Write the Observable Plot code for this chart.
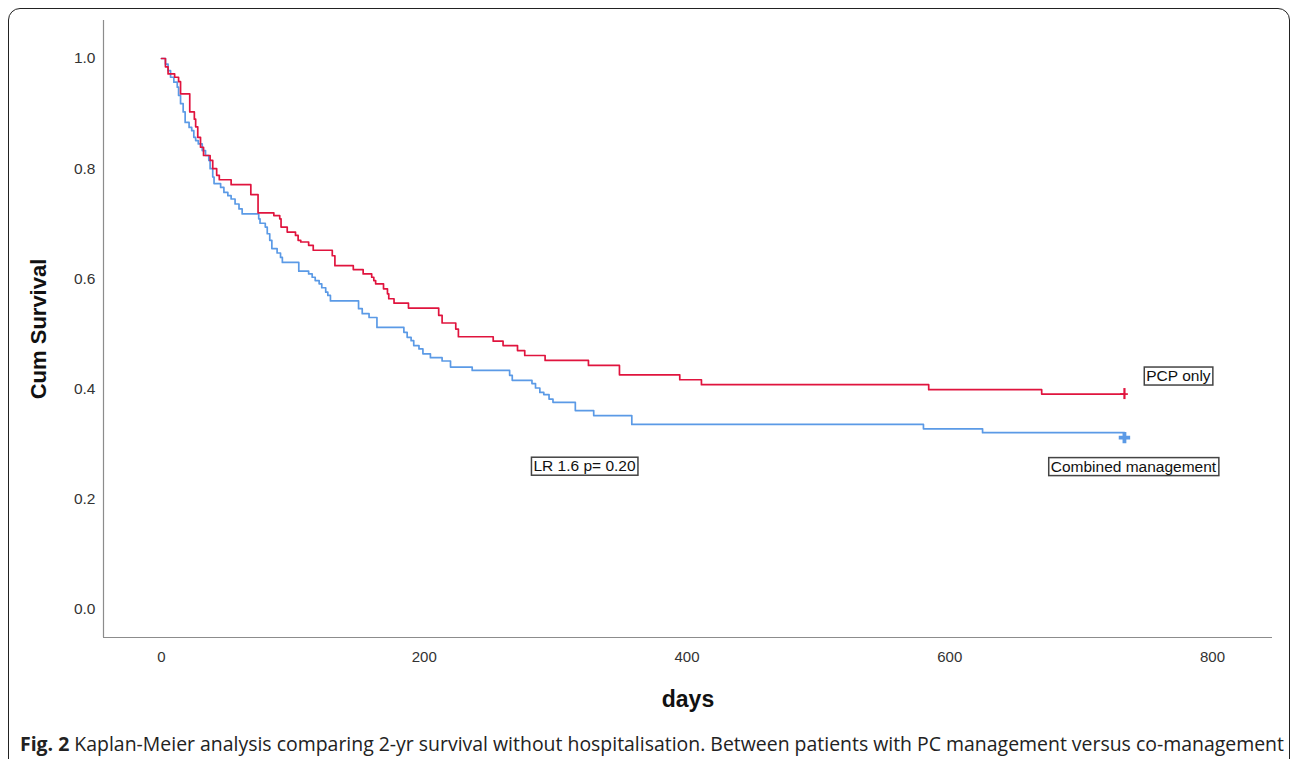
<!DOCTYPE html>
<html>
<head>
<meta charset="utf-8">
<script src="https://cdn.jsdelivr.net/npm/d3@7"></script>
<script src="https://cdn.jsdelivr.net/npm/@observablehq/plot@0.6"></script>
<style>
  html, body { margin: 0; padding: 0; background: #fff; }
  body { width: 1292px; height: 759px; position: relative; overflow: hidden; }
  #frame { position: absolute; left: 8px; top: 8px; width: 1282px; height: 770px; border: 1.5px solid #222; border-radius: 12px; box-sizing: border-box; }
  #chart { position: absolute; left: 0; top: 0; }
  #caption { position: absolute; left: 20px; top: 733px; font-family: "Open Sans", sans-serif; font-size: 19.45px; line-height: 22px; color: #222; white-space: nowrap; }
  #caption b { font-weight: 700; }
</style>
</head>
<body>
<div id="frame"></div>
<div id="chart"></div>
<div id="caption"><b>Fig. 2</b> Kaplan-Meier analysis comparing 2-yr survival without hospitalisation. Between patients with PC management versus co-management</div>
<script>
// ---- Data ----
const pcpDays = [0, 3, 5, 10, 13, 14.5, 21.5, 25, 26, 27.6, 29.7, 32, 37, 39, 42, 44, 53, 68, 73.5, 85.5, 90, 91, 95.7, 102, 104, 106, 112, 115.5, 130, 132, 146, 153.5, 160, 161.6, 163, 169, 172, 173, 177, 188, 211, 213.6, 224, 226, 252.5, 260, 271, 276.5, 292, 325, 348.6, 394.5, 411, 584, 670, 733];
const pcpSurv = [1.0, 0.985, 0.972, 0.966, 0.958, 0.936, 0.903, 0.89, 0.876, 0.857, 0.839, 0.824, 0.815, 0.8, 0.788, 0.78, 0.771, 0.753, 0.72, 0.715, 0.709, 0.694, 0.685, 0.679, 0.67, 0.667, 0.661, 0.652, 0.642, 0.624, 0.617, 0.609, 0.603, 0.597, 0.591, 0.582, 0.573, 0.564, 0.556, 0.547, 0.534, 0.52, 0.509, 0.495, 0.487, 0.479, 0.47, 0.461, 0.452, 0.443, 0.426, 0.417, 0.408, 0.399, 0.391, 0.391];

const combDays = [0, 3, 5, 6.9, 9.4, 12, 13, 14.5, 16.5, 18, 21, 23, 24.6, 26, 28, 31, 33.5, 36, 37, 39, 40, 45, 47.5, 50.5, 53, 56, 59, 61.4, 74, 75, 79, 80.5, 82.4, 84, 88, 90.6, 92, 104.5, 112, 114.7, 117, 120, 122, 125, 126.6, 128.6, 150, 152.8, 158, 164, 184.5, 187, 190, 192, 196, 199, 204.7, 213.6, 220, 236.5, 265, 267, 282, 284.7, 288, 291, 295, 298, 315, 329, 358, 580, 625, 733];
const combSurv = [1.0, 0.99, 0.978, 0.966, 0.957, 0.948, 0.933, 0.918, 0.903, 0.884, 0.875, 0.869, 0.857, 0.851, 0.845, 0.833, 0.824, 0.815, 0.8, 0.785, 0.773, 0.766, 0.757, 0.751, 0.745, 0.736, 0.727, 0.718, 0.709, 0.701, 0.694, 0.682, 0.67, 0.655, 0.647, 0.639, 0.63, 0.614, 0.609, 0.603, 0.597, 0.591, 0.584, 0.576, 0.57, 0.56, 0.546, 0.537, 0.53, 0.512, 0.503, 0.494, 0.488, 0.479, 0.473, 0.464, 0.457, 0.451, 0.44, 0.434, 0.425, 0.416, 0.41, 0.402, 0.394, 0.39, 0.382, 0.376, 0.361, 0.352, 0.336, 0.328, 0.321, 0.321];

const groupNames = ["PCP only", "Combined management"];
const groupColors = ["#e0143e", "#5b9ae6"];
const xTicks = [0, 200, 400, 600, 800];
const yTicks = [0.0, 0.2, 0.4, 0.6, 0.8, 1.0];
const testLabel = "LR 1.6 p= 0.20";
const testLabelPos = {day: 322, surv: 0.26};

// ---- Build tables ----
const pcp = pcpDays.map((d, i) => ({day: d, surv: pcpSurv[i], group: groupNames[0]}));
const comb = combDays.map((d, i) => ({day: d, surv: combSurv[i], group: groupNames[1]}));
const pcpEnd = pcp[pcp.length - 1];
const combEnd = comb[comb.length - 1];

const W = 1292, H = 728;
const xDomain = [-44.15, 845.7];
const yDomain = [-0.0508, 1.069];

const plot = Plot.plot({
  width: W,
  height: H,
  marginLeft: 103,
  marginRight: 20,
  marginTop: 20,
  marginBottom: H - 637,
  style: {fontFamily: "Liberation Sans, Arial, sans-serif", background: "transparent"},
  x: {domain: xDomain},
  y: {domain: yDomain},
  marks: [
    Plot.ruleX([xDomain[0]], {stroke: "#8c8c8c", strokeWidth: 1.2}),
    Plot.ruleY([yDomain[0]], {stroke: "#8c8c8c", strokeWidth: 1.2}),
    Plot.axisX({ticks: xTicks, tickSize: 0, tickPadding: 14, fontSize: 15, fill: "#333", label: null, tickFormat: d3.format("d")}),
    Plot.axisY({ticks: yTicks, tickSize: 0, tickPadding: 8, fontSize: 15.5, fill: "#333", label: null, tickFormat: d3.format(".1f")}),
    Plot.line(comb, {x: "day", y: "surv", curve: "step-after", stroke: groupColors[1], strokeWidth: 1.7}),
    Plot.line(pcp, {x: "day", y: "surv", curve: "step-after", stroke: groupColors[0], strokeWidth: 1.7}),
    Plot.ruleX([pcpEnd], {x: "day", y1: d => d.surv - 0.01, y2: d => d.surv + 0.01, stroke: groupColors[0], strokeWidth: 2.2}),
    Plot.ruleY([pcpEnd], {y: "surv", x1: d => d.day - 3, x2: d => d.day + 3, stroke: groupColors[0], strokeWidth: 1.7}),
    Plot.dot([combEnd], {x: "day", y: "surv", symbol: "cross", r: 4.8, fill: groupColors[1], stroke: "none", dy: 5}),
    Plot.text([pcpEnd], {x: "day", y: "surv", text: () => groupNames[0], dx: 54, dy: -18, fontSize: 15.5, fill: "#111"}),
    Plot.text([combEnd], {x: "day", y: "surv", text: () => groupNames[1], dx: 9, dy: 34, fontSize: 15.5, fill: "#111"}),
    Plot.text([testLabelPos], {x: "day", y: "surv", text: () => testLabel, fontSize: 15.5, fill: "#111"}),
    Plot.text(["days"], {frameAnchor: "bottom", dy: 69, fontSize: 23, fontWeight: "bold", fill: "#111"}),
    Plot.text(["Cum Survival"], {frameAnchor: "left", rotate: -90, dx: -65, textAnchor: "middle", fontSize: 22, fontWeight: "bold", fill: "#111"})
  ]
});

document.getElementById("chart").appendChild(plot);

// draw boxes behind annotation labels
const labelTexts = new Set([groupNames[0], groupNames[1], testLabel]);
plot.querySelectorAll("text").forEach(t => {
  if (!labelTexts.has(t.textContent)) return;
  const b = t.getBBox();
  const r = document.createElementNS("http://www.w3.org/2000/svg", "rect");
  r.setAttribute("x", b.x - 2);
  r.setAttribute("y", b.y);
  r.setAttribute("width", b.width + 4);
  r.setAttribute("height", b.height + 1);
  r.setAttribute("fill", "#fff");
  r.setAttribute("stroke", "#444");
  r.setAttribute("stroke-width", "1.5");
  const tr = t.getAttribute("transform");
  if (tr) r.setAttribute("transform", tr);
  t.parentNode.insertBefore(r, t);
});
</script>
</body>
</html>
